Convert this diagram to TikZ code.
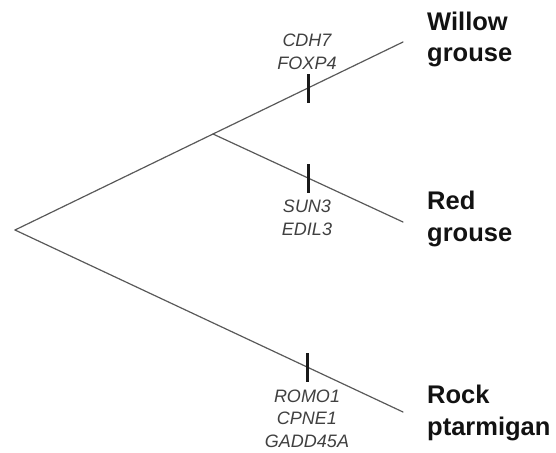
\documentclass[tikz,border=0pt]{standalone}
\usepackage{fontspec}
\setmainfont{Liberation Sans}
\usetikzlibrary{calc}
\begin{document}
\begin{tikzpicture}[x=1pt,y=-1pt,
  branch/.style={draw=black!65, line width=1.2pt, line cap=round},
  tick/.style={rectangle, fill=black!90, minimum width=3pt, minimum height=29pt, inner sep=0pt},
  genes/.style={anchor=base, align=center, inner sep=0pt, text=black!75,
    font=\fontsize{18}{23}\selectfont\itshape},
  species/.style={anchor=base west, align=left, inner sep=0pt, text=black!93,
    font=\fontsize{25.5}{32}\selectfont\bfseries}]
\useasboundingbox (0,0) rectangle (556,452);

% tree vertices
\coordinate (root)   at (15,230);
\coordinate (inner)  at (213,134);
\coordinate (willow) at (403,42);
\coordinate (red)    at (403,222);
\coordinate (rock)   at (403,412);

% branches
\draw[branch] (root) -- (inner) -- (willow);
\draw[branch] (inner) -- (red);
\draw[branch] (root) -- (rock);

% marks on the terminal branches
\node[tick] (tw) at ($(inner)!0.5!(willow)$) {};
\node[tick] (tr) at ($(inner)!0.5!(red)$) {};
\node[tick] (tk) at ($(root)!0.755!(rock)$) {};

% gene names (anchored at the baseline of the last line)
\node[genes] (gw) at (307,69) {CDH7\\FOXP4};
\node[genes] (gr) at (307,235) {SUN3\\EDIL3};
\node[genes, font=\fontsize{18}{22.5}\selectfont\itshape] (gk) at (307,447) {ROMO1\\CPNE1\\GADD45A};

% species names (anchored at the baseline of the last line)
\node[species] (nw) at (427,62)  {Willow\\grouse};
\node[species] (nr) at (427,241) {Red\\grouse};
\node[species] (nk) at (427,435) {Rock\\ptarmigan};
\end{tikzpicture}
\end{document}
